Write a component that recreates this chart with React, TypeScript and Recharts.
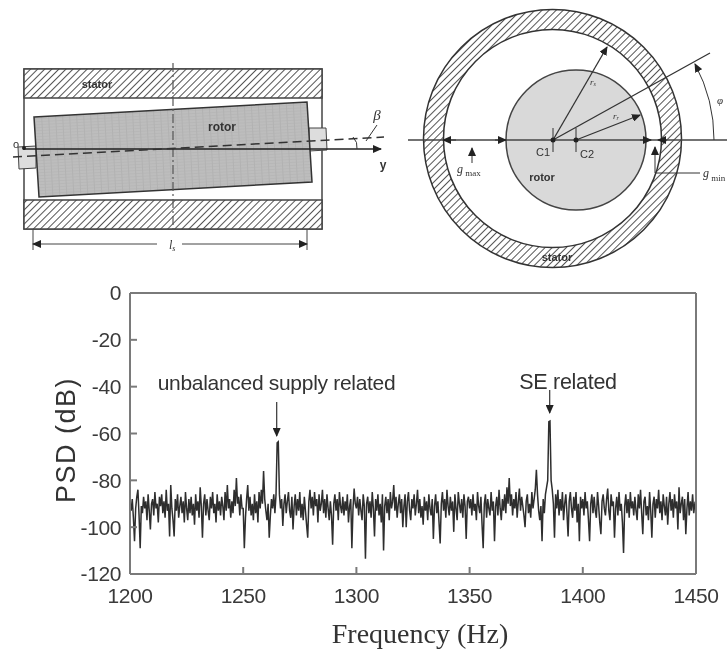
import { LineChart, Line, XAxis, YAxis } from 'recharts';

const SANS = '"Liberation Sans", Arial, sans-serif';
const SERIF = '"Liberation Serif", "Times New Roman", serif';

const xTicks = [1200, 1250, 1300, 1350, 1400, 1450];
const yTicks = [0, -20, -40, -60, -80, -100, -120];
const sideTicks = [-20, -40, -60, -80, -100];

// PSD, one value every 0.5 Hz
const psd1200 = [
  -90, -93, -88, -96, -106, -92, -87, -84, -95, -109,
  -91, -94, -87, -92, -89, -97, -86, -93, -101, -90,
  -88, -95, -85, -92, -90, -98, -87, -91, -86, -94,
  -89, -96, -84, -93, -90, -104, -82, -92, -97, -104,
  -88, -93, -86, -96, -91, -87, -94, -89, -98, -85,
  -92, -97, -88, -94, -87, -95, -90, -99, -86, -93,
  -89, -96, -83, -91, -104.5, -90, -86, -95, -88, -93,
  -97, -87, -92, -85, -94, -90, -98, -86, -93, -89,
  -95, -87, -91, -97, -85, -93, -82, -92, -88, -96,
  -89, -94, -84, -91, -79, -90, -87, -95, -86, -92,
];
const psd1250 = [
  -92, -109, -96, -88, -82, -93, -87, -95, -90, -97,
  -86, -94, -89, -98, -85, -92, -84, -90, -76, -88,
  -93, -97, -90, -104.5, -95, -88, -92, -86, -94, -86,
  -64, -63.5, -86, -92, -88, -99.5, -90, -86, -94, -89,
  -85, -93, -96, -87, -101, -91, -86, -95, -88, -93,
  -85, -96, -90, -97, -87, -93, -99, -104.5, -89, -84,
  -92, -87, -95, -85, -91, -88, -98, -86, -93, -90,
  -84, -94, -88, -96, -86, -92, -97, -89, -95, -107.5,
  -90, -86, -93, -88, -97, -85, -91, -94, -87, -95,
  -89, -93, -86, -98, -91, -88, -109, -92, -83.5, -90,
];
const psd1300 = [
  -92, -87, -95, -88, -93, -97, -86, -91, -113.5, -90,
  -87, -94, -89, -96, -85, -92, -104, -88, -93, -86,
  -95, -90, -98, -86, -110, -91, -87, -94, -88, -97,
  -85, -92, -89, -82, -93, -87, -96, -90, -86, -94,
  -88, -100, -91, -86, -100, -89, -85, -93, -97, -88,
  -92, -86, -95, -90, -84, -94, -88, -96, -91, -99,
  -87, -93, -89, -97, -86, -92, -95, -88, -105, -91,
  -86, -94, -89, -98, -107, -90, -85, -93, -88, -96,
  -84, -91, -95, -87, -93, -89, -102, -86, -92, -97,
  -85, -90, -94, -88, -96, -86, -91, -105, -89, -87,
];
const psd1350 = [
  -92, -88, -95, -86, -93, -90, -97, -85, -91, -94,
  -87, -99, -109, -90, -86, -96, -88, -92, -95, -85,
  -93, -89, -106, -91, -87, -95, -84, -92, -97, -88,
  -93, -86, -94, -83, -90, -79, -91, -86, -95, -88,
  -92, -85, -96, -89, -83.5, -93, -87, -91, -95, -100,
  -89, -86, -94, -90, -96, -85, -92, -88, -84, -75.5,
  -86, -93, -97, -91, -106, -88, -94, -86, -83, -80,
  -55, -54.7, -80, -84, -90, -104.5, -86, -92, -84, -95,
  -88, -93, -85, -97, -90, -86, -94, -104, -89, -85,
  -92, -96, -87, -93, -85, -98, -90, -106, -87, -92,
];
const psd1400 = [
  -88, -95, -85, -92, -89, -97, -106, -90, -86, -94,
  -87, -93, -96, -85, -91, -98, -103, -89, -86, -92,
  -95, -88, -83.5, -93, -97, -86, -91, -89, -104.5, -92,
  -87, -95, -85, -93, -90, -98, -111, -91, -86, -94,
  -88, -96, -85, -92, -89, -95, -87, -93, -97, -86,
  -92, -84, -94, -103, -89, -87, -95, -91, -97, -85,
  -93, -104.5, -90, -87, -96, -88, -92, -84, -94, -89,
  -97, -86, -91, -95, -87, -99, -90, -85, -93, -88,
  -96, -86, -92, -89, -101, -83, -94, -90, -87, -97,
  -88, -103, -92, -85, -95, -89, -93, -86, -94, -90, -91,
];

const psd = [...psd1200, ...psd1250, ...psd1300, ...psd1350, ...psd1400];
const data = psd.map((v, i) => ({ freq: 1200 + i * 0.5, psd: v }));

const AXIS = '#7a7a7a';
const INK = '#333';

function Diagrams() {
  return (
    <svg width={727} height={650} style={{ position: 'absolute', left: 0, top: 0 }}>
      <defs>
        <pattern id="hatch" width="5" height="5" patternUnits="userSpaceOnUse" patternTransform="rotate(45)">
          <rect width="5" height="5" fill="#fff" />
          <line x1="0" y1="0" x2="0" y2="5" stroke="#555" strokeWidth="2" />
        </pattern>
        <pattern id="rotorGrid" width="7" height="3" patternUnits="userSpaceOnUse" patternTransform="rotate(-3)">
          <rect width="7" height="3" fill="#bdbdbd" />
          <line x1="0" y1="0" x2="0" y2="3" stroke="#a8a8a8" strokeWidth="1" />
          <line x1="0" y1="0" x2="7" y2="0" stroke="#b2b2b2" strokeWidth="1" />
        </pattern>
        <marker id="head" markerWidth="9" markerHeight="8" refX="8" refY="4" orient="auto-start-reverse" markerUnits="userSpaceOnUse">
          <path d="M0,0 L9,4 L0,8 Z" fill="#222" />
        </marker>
      </defs>

      {/* side view */}
      <rect x={24} y={69} width={298} height={160} fill="#fff" stroke="#444" strokeWidth={1.5} />
      <rect x={24} y={69} width={298} height={29} fill="url(#hatch)" stroke="#444" strokeWidth={1.5} />
      <rect x={24} y={200} width={298} height={29} fill="url(#hatch)" stroke="#444" strokeWidth={1.5} />
      <polygon points="18,147 36,146 36,168 19,169" fill="#ddd" stroke="#444" />
      <polygon points="309,128 326,128 327,150 309,151" fill="#ddd" stroke="#444" />
      <polygon points="34,117 307,102 312,182 39,197" fill="url(#rotorGrid)" stroke="#333" strokeWidth={1.5} />
      <line x1={173} y1={63} x2={173} y2={233} stroke="#555" strokeWidth={1.2} strokeDasharray="9 3 2 3" />
      <line x1={23} y1={149} x2={381} y2={149} stroke="#222" strokeWidth={1.5} markerEnd="url(#head)" />
      <line x1={13} y1={157} x2={384} y2={137} stroke="#333" strokeWidth={1.5} strokeDasharray="9 5" />
      <circle cx={24} cy={148} r={2} fill="#222" />
      <path d="M353,137 Q358,142 357,149" fill="none" stroke="#333" />
      <line x1={377} y1={125} x2={366} y2={141} stroke="#333" />
      <line x1={33} y1={229} x2={33} y2={250} stroke="#444" />
      <line x1={307} y1={229} x2={307} y2={250} stroke="#444" />
      <line x1={33} y1={244} x2={157} y2={244} stroke="#444" markerStart="url(#head)" />
      <line x1={182} y1={244} x2={307} y2={244} stroke="#444" markerEnd="url(#head)" />
      <text x={97} y={88} textAnchor="middle" fontFamily={SANS} fontSize={11} fontWeight="bold" fill={INK}>stator</text>
      <text x={222} y={131} textAnchor="middle" fontFamily={SANS} fontSize={12} fontWeight="bold" fill={INK}>rotor</text>
      <text x={16} y={148} textAnchor="middle" fontFamily={SANS} fontSize={11} fill={INK}>o</text>
      <text x={383} y={169} textAnchor="middle" fontFamily={SANS} fontSize={12} fontWeight="bold" fill={INK}>y</text>
      <text x={377} y={120} textAnchor="middle" fontFamily={SERIF} fontSize={15} fontStyle="italic" fill={INK}>β</text>
      <text x={169} y={249} fontFamily={SERIF} fontSize={12} fontStyle="italic" fill={INK}>l<tspan fontSize={8} dy={2}>s</tspan></text>

      {/* cross section */}
      <circle cx={552.5} cy={138.5} r={129} fill="url(#hatch)" stroke="#333" strokeWidth={1.5} />
      <circle cx={552.5} cy={138.5} r={109} fill="#fff" stroke="#333" strokeWidth={1.5} />
      <circle cx={576} cy={140} r={70} fill="#d9d9d9" stroke="#444" strokeWidth={1.5} />
      <line x1={408} y1={140} x2={727} y2={140} stroke="#444" strokeWidth={1.5} />
      <line x1={553} y1={140} x2={607} y2={47} stroke="#333" strokeWidth={1.3} markerEnd="url(#head)" />
      <line x1={553} y1={140} x2={710} y2={53} stroke="#333" strokeWidth={1.3} />
      <line x1={576} y1={140} x2={640} y2={115} stroke="#333" strokeWidth={1.3} markerEnd="url(#head)" />
      <line x1={553} y1={128} x2={553} y2={152} stroke="#333" />
      <line x1={576} y1={128} x2={576} y2={152} stroke="#333" />
      <circle cx={553} cy={140} r={2.5} fill="#222" />
      <circle cx={576} cy={140} r={2.5} fill="#222" />
      <path d="M714,140 A160,160 0 0 0 695,64" fill="none" stroke="#333" markerEnd="url(#head)" />
      <line x1={456} y1={140} x2={443} y2={140} stroke="#333" markerEnd="url(#head)" />
      <line x1={495} y1={140} x2={506} y2={140} stroke="#333" markerEnd="url(#head)" />
      <line x1={640} y1={140} x2={651} y2={140} stroke="#333" markerEnd="url(#head)" />
      <line x1={667} y1={140} x2={658} y2={140} stroke="#333" markerEnd="url(#head)" />
      <line x1={472} y1={163} x2={472} y2={148} stroke="#333" markerEnd="url(#head)" />
      <polyline points="700,173 655,173 655,147" fill="none" stroke="#333" markerEnd="url(#head)" />
      <text x={543} y={156} textAnchor="middle" fontFamily={SANS} fontSize={11} fill={INK}>C1</text>
      <text x={587} y={158} textAnchor="middle" fontFamily={SANS} fontSize={11} fill={INK}>C2</text>
      <text x={542} y={181} textAnchor="middle" fontFamily={SANS} fontSize={11} fontWeight="bold" fill={INK}>rotor</text>
      <text x={557} y={261} textAnchor="middle" fontFamily={SANS} fontSize={11} fontWeight="bold" fill={INK}>stator</text>
      <text x={593} y={85} fontFamily={SERIF} fontSize={9} fontStyle="italic" textAnchor="middle" fill={INK}>r<tspan fontSize={6} dy={1}>s</tspan></text>
      <text x={616} y={119} fontFamily={SERIF} fontSize={9} fontStyle="italic" textAnchor="middle" fill={INK}>r<tspan fontSize={6} dy={1}>r</tspan></text>
      <text x={720} y={104} fontFamily={SERIF} fontSize={11} fontStyle="italic" textAnchor="middle" fill={INK}>φ</text>
      <text x={457} y={173} fontFamily={SERIF} fontSize={12} fontStyle="italic" fill={INK}>g<tspan fontSize={9} dy={3} fontStyle="normal"> max</tspan></text>
      <text x={703} y={177} fontFamily={SERIF} fontSize={12} fontStyle="italic" fill={INK}>g<tspan fontSize={9} dy={4} fontStyle="normal"> min</tspan></text>

      {/* annotations and axis titles of the spectrum */}
      <text x={276.5} y={390} textAnchor="middle" fontFamily={SANS} fontSize={21} letterSpacing={-0.3} fill={INK}>unbalanced supply related</text>
      <line x1={276.7} y1={402} x2={276.7} y2={436} stroke="#333" strokeWidth={1.2} markerEnd="url(#head)" />
      <text x={568} y={389} textAnchor="middle" fontFamily={SANS} fontSize={21.5} letterSpacing={-0.3} fill={INK}>SE related</text>
      <line x1={549.7} y1={390} x2={549.7} y2={413} stroke="#333" strokeWidth={1.2} markerEnd="url(#head)" />
      <text transform="translate(75,440) rotate(-90)" textAnchor="middle" fontFamily={SANS} fontSize={27} letterSpacing={1.5} fill={INK}>PSD (dB)</text>
      <text x={420} y={643} textAnchor="middle" fontFamily={SERIF} fontSize={28} fill={INK}>Frequency (Hz)</text>
    </svg>
  );
}

export default function App() {
  const tickFont = { fontSize: 21, fill: '#3a3a3a', fontFamily: SANS, letterSpacing: -0.4 };
  const blank = () => '';
  return (
    <div style={{ position: 'absolute', left: 0, top: 0, width: 727, height: 650, background: '#fff', filter: 'blur(0.6px)' }}>
      <LineChart width={727} height={650} data={data} margin={{ top: 263, right: 1, bottom: 26, left: 70 }}>
        <XAxis dataKey="freq" type="number" domain={[1200, 1450]} ticks={xTicks} height={50} interval={0}
          stroke={AXIS} strokeWidth={2} tickSize={-7} tickMargin={21} tick={tickFont} />
        <XAxis xAxisId="top" orientation="top" type="number" domain={[1200, 1450]} ticks={xTicks} height={30} interval={0}
          stroke={AXIS} strokeWidth={2} tickSize={-7} tickFormatter={blank} />
        <YAxis type="number" domain={[-120, 0]} ticks={yTicks} width={60} interval={0}
          stroke={AXIS} strokeWidth={2} tickSize={-7} tickMargin={16} tick={tickFont} />
        <YAxis yAxisId="right" orientation="right" type="number" domain={[-120, 0]} ticks={sideTicks} width={30} interval={0}
          stroke={AXIS} strokeWidth={2} tickSize={-7} tickFormatter={blank} />
        <Line dataKey="psd" stroke="#2e2e2e" strokeWidth={1.5} dot={false} isAnimationActive={false} />
      </LineChart>
      <Diagrams />
    </div>
  );
}
